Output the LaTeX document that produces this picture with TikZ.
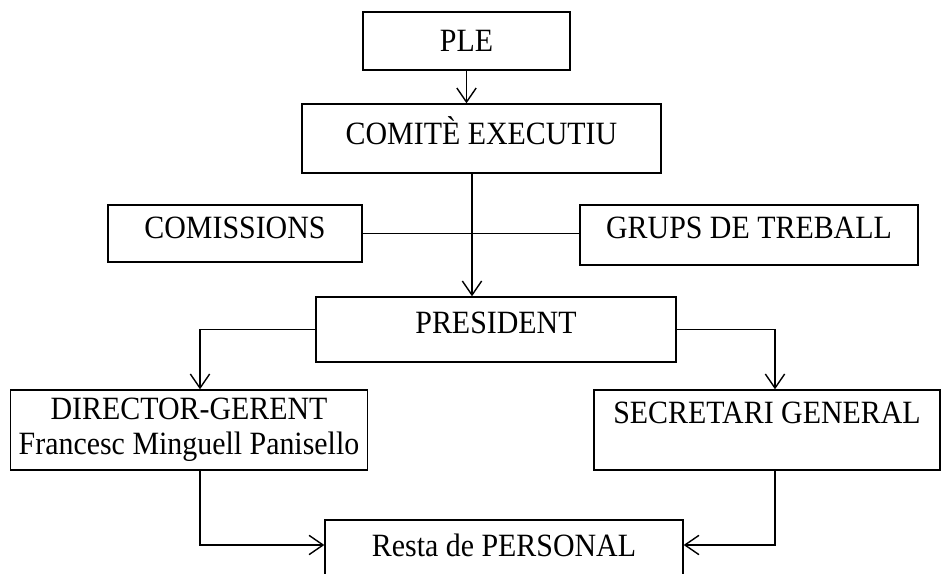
\documentclass[tikz,border=0pt]{standalone}
\usepackage{fontspec}
\setmainfont{Liberation Serif}[FakeStretch=0.92]
\usetikzlibrary{arrows.meta, positioning}

\begin{document}
\begin{tikzpicture}[x=0.02cm, y=-0.02cm, orgbox/.style={draw, thick, align=center, inner sep=2pt, font=\fontsize{18.5}{20}\selectfont}, >={Straight Barb[length=8pt,width=11pt]}]

    \useasboundingbox (0,0) rectangle (944,574);

    \node[orgbox, minimum width=4.14cm, minimum height=1.16cm] (ple) at (466.5,41) {PLE};
    \node[orgbox, minimum width=7.18cm, minimum height=1.38cm, text depth=0.32cm] (comite) at (481.5,138.5) {COMITÈ EXECUTIU};

    \node[orgbox, minimum width=5.08cm, minimum height=1.14cm, text depth=0.22cm] (comissions) at (235,233.5) {COMISSIONS};
    \node[orgbox, minimum width=6.76cm, minimum height=1.2cm, text depth=0.28cm] (grups) at (749,235) {GRUPS DE TREBALL};
    \coordinate (cross) at (472,233.5);

    \node[orgbox, minimum width=7.2cm, minimum height=1.3cm, text depth=0.26cm] (president) at (496,329.5) {PRESIDENT};

    \node[orgbox, minimum width=7.14cm, minimum height=1.6cm] (director) at (189,430) {DIRECTOR-GERENT \\ Francesc Minguell Panisello};
    \node[orgbox, minimum width=6.92cm, minimum height=1.6cm, text depth=0.68cm] (secretari) at (767,430) {SECRETARI GENERAL};

    \node[orgbox, minimum width=7.16cm, minimum height=1.4cm, text depth=0.4cm] (resta) at (504,555) {Resta de PERSONAL};

    \draw[thick, ->] (ple) -- (comite.north -| ple);
    \draw[thick] (comissions.east) -- (comissions.east -| grups.west);
    \draw[thick, ->] (comite.south -| cross) -- (president.north -| cross);

    \draw[thick, ->] (president.west) -| ([xshift=0.22cm]director.north);
    \draw[thick, ->] (president.east) -| ([xshift=0.16cm]secretari.north);

    \draw[thick, ->] ([xshift=0.22cm]director.south) |- ([yshift=0.2cm]resta.west);
    \draw[thick, ->] ([xshift=0.16cm]secretari.south) |- ([yshift=0.2cm]resta.east);

\end{tikzpicture}
\end{document}
